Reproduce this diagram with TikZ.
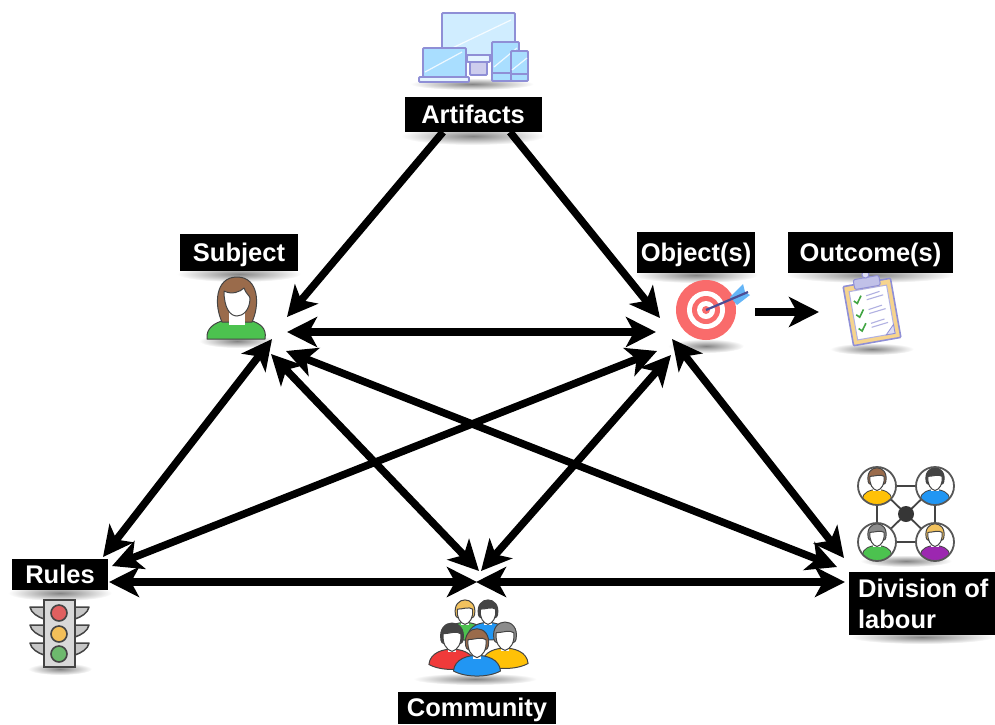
\documentclass[tikz,border=0pt]{standalone}
\usepackage{fontspec}
\setmainfont{Liberation Sans}
\usetikzlibrary{arrows.meta}
\definecolor{inkdark}{HTML}{444444}
\definecolor{devline}{HTML}{8F8FD6}
\definecolor{devfill}{HTML}{A9DEFF}
\definecolor{devpale}{HTML}{E4F4FF}
\definecolor{targetred}{HTML}{F96B6B}
\definecolor{hairbrown}{HTML}{9A6B4B}
\definecolor{shirtgreen}{HTML}{4CC24F}
\definecolor{shirtblue}{HTML}{2196F3}
\definecolor{shirtyellow}{HTML}{FFC107}
\definecolor{shirtred}{HTML}{F03A3A}
\definecolor{shirtpurple}{HTML}{9C27B0}
\definecolor{hairblond}{HTML}{F2C25E}
\definecolor{hairgrey}{HTML}{8C8C8C}
\definecolor{hairdark}{HTML}{444444}
\tikzset{
  lab/.style={fill=black,text=white,inner sep=0pt,font=\fontsize{25.5}{31}\selectfont\bfseries},
  labone/.style={lab,text height=18pt,text depth=1pt},
  tips/.style={line width=7.5pt},
  bi/.style={tips,{Stealth[length=30pt,width=30pt,inset=8pt]}-{Stealth[length=30pt,width=30pt,inset=8pt]}},
  uni/.style={tips,-{Stealth[length=30pt,width=30pt,inset=8pt]}},
  dev/.style={draw=devline,line width=1.8pt,fill=devfill,rounded corners=1pt},
  devglare/.style={draw=white,line width=1.2pt,opacity=.8},
  personline/.style={draw=inkdark,line width=1pt,line join=round},
  lamp/.style={draw=inkdark,line width=1.6pt},
  wing/.style={draw=inkdark,line width=1.5pt,fill=black!22,line join=round},
  link/.style={draw=inkdark,line width=1.8pt},
  tick/.style={draw=shirtgreen!85!black,line width=1.6pt},
  rowline/.style={draw=devline!70,line width=1.1pt}
}
\newcommand{\softshadow}[4]{\shade[inner color=black!48,outer color=white] (#1,#2) ellipse [x radius=#3,y radius=#4];}
% x, y, scale, hair, shirt
\newcommand{\personicon}[5]{%
  \begin{scope}[shift={(#1,#2)},scale=#3]
    \path[personline,fill=#5] (-21,25) .. controls (-20,14) and (-8,11) .. (0,11) .. controls (8,11) and (20,14) .. (21,25) .. controls (10,31) and (-10,31) .. (-21,25) -- cycle;
    \path[personline,fill=#4] (-10,3) .. controls (-14,-18) and (14,-18) .. (10,3) .. controls (10,9) and (-10,9) .. (-10,3) -- cycle;
    \path[fill=white] (-4,8) rectangle (4,14);
    \path[personline,fill=white] (-8,-3) .. controls (-2,-3) and (4,-6) .. (8,-3) .. controls (9,6) and (5,12) .. (0,13) .. controls (-5,12) and (-9,6) .. (-8,-3) -- cycle;
  \end{scope}}
% x, y, hair, shirt
\newcommand{\circperson}[4]{%
  \begin{scope}
    \path[fill=white] (#1,#2) circle [radius=19];
    \clip (#1,#2) circle [radius=19];
    \path[draw=inkdark,line width=.8pt,fill=#4] (#1,#2+12.5) ellipse [x radius=14.5,y radius=9];
    \begin{scope}[shift={(#1,#2-7)},scale=.88]
      \path[personline,fill=#3] (-10,3) .. controls (-14,-18) and (14,-18) .. (10,3) .. controls (10,9) and (-10,9) .. (-10,3) -- cycle;
      \path[fill=white] (-5,8) rectangle (5,14);
      \path[personline,fill=white] (-8,-3) .. controls (-2,-3) and (4,-6) .. (8,-3) .. controls (9,6) and (5,12) .. (0,13) .. controls (-5,12) and (-9,6) .. (-8,-3) -- cycle;
    \end{scope}
  \end{scope}
  \draw[draw=inkdark!90,line width=1.8pt] (#1,#2) circle [radius=19];}
\newcommand{\wingpair}[1]{%
  \path[wing] (44,#1) -- (30,#1) .. controls (31,#1+6) and (38,#1+10) .. (44,#1+12) -- cycle;
  \path[wing] (75,#1) -- (89,#1) .. controls (88,#1+6) and (81,#1+10) .. (75,#1+12) -- cycle;}
\newcommand{\clipcheck}[1]{%
  \path[tick] (-16,#1) -- (-13,#1+3) -- (-8,#1-4);
  \path[rowline] (-3,#1-3) -- (11,#1-5) (-3,#1+1) -- (14,#1-1);}
\begin{document}
\begin{tikzpicture}[x=1pt,y=-1pt]
\useasboundingbox (0,0) rectangle (995,724);
% soft shadows
\softshadow{472}{84}{62}{6}
\softshadow{473}{136}{72}{9}
\softshadow{239}{274}{62}{8}
\softshadow{237}{341}{38}{7}
\softshadow{696}{275}{62}{8}
\softshadow{706}{346}{38}{7}
\softshadow{870}{275}{84}{8}
\softshadow{872}{349}{42}{6}
\softshadow{906}{561}{46}{6}
\softshadow{922}{637}{72}{7}
\softshadow{60}{593}{52}{8}
\softshadow{60}{669}{32}{6}
\softshadow{475}{679}{62}{6}
% artifacts icon
\path[dev,fill=devfill!55] (442,13) rectangle (515,55);
\path[devglare] (446,51) -- (511,20);
\path[dev,fill=devpale] (467,55) rectangle (490,62);
\path[dev,fill=devline!45] (470,62) rectangle (487,75);
\path[dev] (423,48) rectangle (466,77);
\path[devglare] (425,72) -- (462,52);
\path[dev,fill=devpale] (419,77) rectangle (469,82);
\path[dev] (492,42) rectangle (519,81);
\path[devglare] (494,67) -- (517,48);
\path[draw=devline,line width=1.2pt] (492,73) -- (511,73);
\path[dev] (511,51) rectangle (528,81);
\path[devglare] (512,70) -- (527,58);
\path[draw=devline,line width=1.2pt] (511,74) -- (528,74);
% subject icon
\path[personline,fill=shirtgreen] (207,339) .. controls (206,328) and (214,323) .. (225,320) -- (249,320) .. controls (260,323) and (267,328) .. (265,339) -- cycle;
\path[personline,fill=hairbrown] (222,322) .. controls (214,305) and (215,277) .. (237,277) .. controls (259,277) and (260,305) .. (252,322) -- cycle;
\path[fill=white] (229,310) rectangle (245,325);
\path[personline,fill=white] (224,291) .. controls (232,295) and (240,292) .. (244,288) .. controls (246,294) and (250,296) .. (250,298) .. controls (250,310) and (243,316) .. (237,316) .. controls (230,316) and (224,308) .. (224,291) -- cycle;
% object icon
\path[fill=targetred] (706,310) circle [radius=30];
\path[fill=white] (706,310) circle [radius=19];
\path[fill=targetred] (706,310) circle [radius=14];
\path[fill=white] (706,310) circle [radius=9];
\path[fill=targetred] (706,310) circle [radius=4];
\path[fill=shirtblue!70!white] (730,297) -- (743,284) -- (745,292) -- (750,295) -- (737,305) -- cycle;
\path[draw=black!60!blue!70!white,line width=2.2pt] (706,310) -- (748,292);
% outcome icon
\begin{scope}[shift={(872,312)},rotate=10]
  \path[draw=devline,line width=1.6pt,fill=hairblond!70,rounded corners=1pt] (-24,-30) rectangle (24,30);
  \path[draw=devline!70,line width=1pt,fill=white] (-19,-24) rectangle (19,25);
  \path[draw=devline,line width=1pt,fill=devline!55,rounded corners=2pt] (-13,-35) rectangle (13,-25);
  \path[draw=devline,line width=1pt,fill=devline!30] (0,-38) circle [radius=3.5];
  \clipcheck{-14}
  \clipcheck{0}
  \clipcheck{14}
  \path[draw=devline,line width=.8pt,fill=devline!30] (10,25) -- (19,25) -- (19,16) -- cycle;
\end{scope}
% division icon
\coordinate (hub) at (906,514);
\path[link] (877,486) rectangle (935,542);
\path[link] (877,486) -- (935,542) (935,486) -- (877,542);
\path[fill=inkdark!80!black] (hub) circle [radius=8];
\circperson{877}{486}{hairbrown}{shirtyellow}
\circperson{935}{486}{hairdark}{shirtblue}
\circperson{877}{542}{hairgrey}{shirtgreen}
\circperson{935}{542}{hairblond}{shirtpurple}
% traffic light
\wingpair{607}
\wingpair{625}
\wingpair{643}
\path[draw=inkdark,line width=1.8pt,fill=black!15] (44,600) rectangle (75,667);
\path[lamp,fill=targetred!90!black] (59,613) circle [radius=8];
\path[lamp,fill=hairblond!95!orange] (59,634) circle [radius=8];
\path[lamp,fill=green!35!gray!85!white] (59,654) circle [radius=8];
% community icon
\personicon{465}{612}{.95}{hairblond}{shirtgreen}
\personicon{488}{612}{.95}{hairdark}{shirtblue}
\personicon{452}{637}{1.1}{hairdark}{shirtred}
\personicon{505}{636}{1.1}{hairgrey}{shirtyellow}
\personicon{477}{643}{1.12}{hairbrown}{shirtblue}
% labels
\node[labone,minimum width=137pt,minimum height=35pt] (artifacts) at (473,114.5) {Artifacts};
\node[labone,minimum width=118pt,minimum height=37pt] (subject) at (239,252.5) {Subject};
\node[labone,minimum width=118pt,minimum height=41pt] (object) at (696,252.5) {Object(s)};
\node[labone,minimum width=165pt,minimum height=41pt] (outcome) at (870.5,252.5) {Outcome(s)};
\node[lab,minimum width=146pt,minimum height=63pt,align=left] (division) at (922,603.5) {\hspace*{2.5pt}Division of\\\hspace*{2.5pt}labour};
\node[labone,minimum width=96pt,minimum height=31pt] (rules) at (60,574.5) {Rules};
\node[labone,minimum width=158pt,minimum height=32pt] (community) at (477,708) {Community};
% connector ends
\coordinate (artS) at (443,132);
\coordinate (artO) at (510,132);
\coordinate (subA) at (287,317);
\coordinate (subO) at (287,332);
\coordinate (subD) at (286,351);
\coordinate (subR) at (272,339);
\coordinate (subC) at (271,354);
\coordinate (objA) at (660,318);
\coordinate (objS) at (656,332);
\coordinate (objR) at (657,351);
\coordinate (objC) at (671,355);
\coordinate (objD) at (672,339);
\coordinate (objOut) at (755,312);
\coordinate (outObj) at (819,312);
\coordinate (rulS) at (103,557);
\coordinate (rulO) at (112,566);
\coordinate (rulC) at (109,582);
\coordinate (comS) at (479,571);
\coordinate (comO) at (481,571);
\coordinate (comR) at (477,582);
\coordinate (comD) at (476,582);
\coordinate (divO) at (844,558);
\coordinate (divS) at (837,567);
\coordinate (divC) at (845,582);
% connectors
\draw[uni] (artS) -- (subA);
\draw[uni] (artO) -- (objA);
\draw[uni] (objOut) -- (outObj);
\draw[bi] (subO) -- (objS);
\draw[bi] (subR) -- (rulS);
\draw[bi] (subC) -- (comS);
\draw[bi] (subD) -- (divS);
\draw[bi] (objR) -- (rulO);
\draw[bi] (objC) -- (comO);
\draw[bi] (objD) -- (divO);
\draw[bi] (rulC) -- (comR);
\draw[bi] (comD) -- (divC);
\end{tikzpicture}
\end{document}
